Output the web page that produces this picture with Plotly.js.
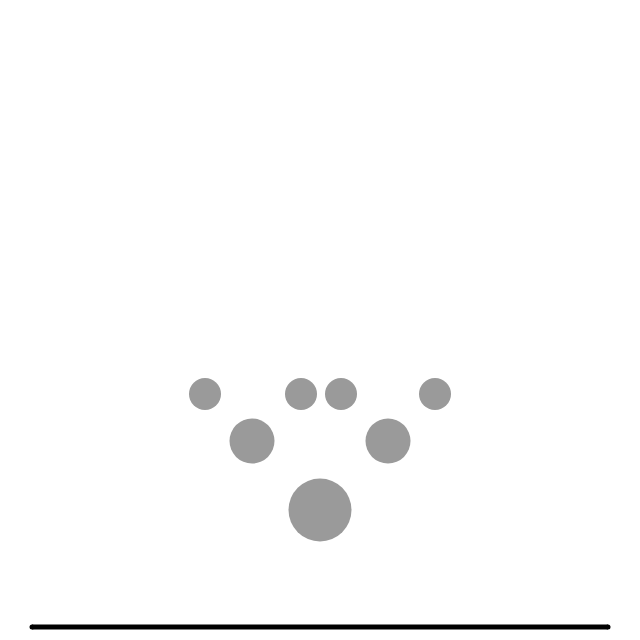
<!DOCTYPE html>
<html>
<head>
<meta charset="utf-8">
<script src="https://cdn.plot.ly/plotly-3.0.1.min.js"></script>
<style>html,body{margin:0;padding:0;background:#fff;}#chart{width:640px;height:640px;}</style>
</head>
<body>
<div id="chart"></div>
<script>
// Node positions (horizontal offset, height) and node sizes
const nodeX = [-115, -19, 21, 115, -68, 68, 0];
const nodeY = [246, 246, 246, 246, 199, 199, 130];
const nodeSize = [32, 32, 32, 32, 45, 45, 63];
// Baseline
const baseX = [-288, 288];
const baseY = [13, 13];

const nodes = {
  x: nodeX, y: nodeY, mode: 'markers', type: 'scatter', hoverinfo: 'skip',
  marker: {size: nodeSize, color: '#9a9a9a', opacity: 1, line: {width: 0}}
};
const base = {
  x: baseX, y: baseY, mode: 'lines+markers', type: 'scatter', hoverinfo: 'skip',
  line: {color: '#000', width: 5},
  marker: {color: '#000', size: 5}
};
const layout = {
  width: 640, height: 640,
  margin: {l: 0, r: 0, t: 0, b: 0},
  paper_bgcolor: '#fff', plot_bgcolor: '#fff',
  showlegend: false,
  xaxis: {range: [-320, 320], visible: false, fixedrange: true},
  yaxis: {range: [0, 640], visible: false, fixedrange: true}
};
Plotly.newPlot('chart', [base, nodes], layout, {staticPlot: true});
</script>
</body>
</html>
